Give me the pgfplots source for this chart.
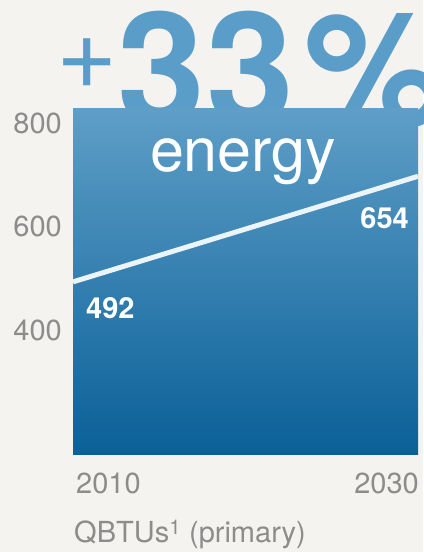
\documentclass[border=0pt]{standalone}
\usepackage{pgfplots}
\pgfplotsset{compat=1.18}
\usepackage{fontspec}
\setmainfont{TeX Gyre Heros}
\definecolor{bg}{HTML}{F4F3EF}
\definecolor{big}{HTML}{5A9DC8}
\definecolor{boxtop}{HTML}{5E9EC7}
\definecolor{boxmid}{HTML}{3A87B8}
\definecolor{boxbot}{HTML}{0A6098}
\definecolor{tickgray}{HTML}{8C8C8C}
\definecolor{linec}{HTML}{EAF4F9}
\begin{document}
\begin{tikzpicture}[x=1bp,y=1bp]
\useasboundingbox (0,0) rectangle (423,552);
\clip (0,0) rectangle (423,552);
\fill[bg] (0,0) rectangle (423,552);
\node[anchor=center, inner sep=0, text=big, font=\fontsize{105bp}{105bp}\selectfont] at (87,488) {+};
\node[anchor=base west, inner sep=0, text=big, font=\fontsize{158bp}{158bp}\selectfont\bfseries] at (117,426) {3\kern2bp3\kern10bp\%};
\node[anchor=base west, inner sep=0, text=tickgray, font=\fontsize{29bp}{29bp}\selectfont] at (74,9) {QBTUs\textsuperscript{1} (primary)};
\begin{axis}[
  at={(73bp,97bp)}, anchor=south west,
  scale only axis, width=345bp, height=346bp,
  xmin=2010, xmax=2030, ymin=158.5, ymax=827,
  axis line style={draw=none}, tick style={draw=none},
  axis background/.style={shade, top color=boxtop, middle color=boxmid, bottom color=boxbot},
  /pgf/number format/assume math mode=true,
  tick label style={font=\fontsize{29bp}{29bp}\selectfont, text=tickgray},
  ytick={400,600,800},
  yticklabel style={anchor=east, inner sep=0pt, xshift=-11bp},
  xtick={2010}, xticklabels={2010},
  xticklabel style={anchor=north west, inner sep=0pt, yshift=-18bp, xshift=3bp},
  extra x ticks={2030}, extra x tick labels={2030},
  extra x tick style={xticklabel style={anchor=north east, xshift=-2bp}},
]
\addplot[color=linec, line width=5bp, line cap=butt] coordinates {(2010,493) (2030,697)};
\node[anchor=base, inner sep=0, text=white, font=\fontsize{61bp}{61bp}\selectfont] at (axis cs:2019.86,705.5) {energy};
\node[anchor=base west, inner sep=0, text=white, font=\fontsize{29bp}{29bp}\selectfont\bfseries] at (axis cs:2010,423) {\hspace*{13bp}492};
\node[anchor=base east, inner sep=0, text=white, font=\fontsize{29bp}{29bp}\selectfont\bfseries] at (axis cs:2030,597) {654\hspace*{9bp}};
\end{axis}
\end{tikzpicture}
\end{document}
